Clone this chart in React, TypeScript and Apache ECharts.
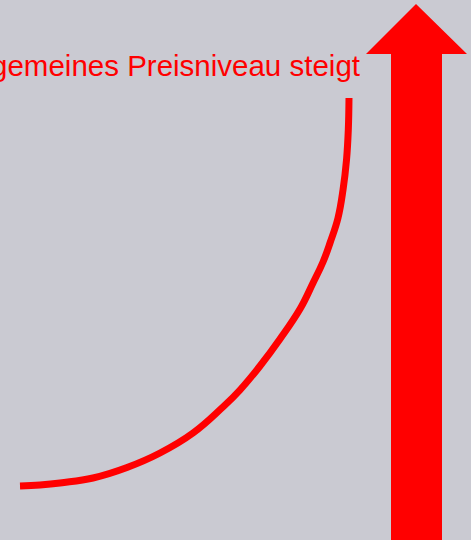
import React, { useEffect, useRef } from "react";
import * as echarts from "echarts";

const curveX = [20, 40, 60, 93, 127, 160, 193, 224, 240, 260, 280, 300, 313, 323, 330, 338, 343, 346.5, 348.3, 349];
const curveY = [486, 485, 483, 478, 467.5, 453, 433, 406, 390, 366, 339, 309, 283, 262, 243, 218, 190, 160, 130, 98];
const title = "Allgemeines Preisniveau steigt";

export default function App() {
  const ref = useRef<HTMLDivElement>(null);
  useEffect(() => {
    const chart = echarts.init(ref.current!, null, { renderer: "svg" });
    chart.setOption({
      animation: false,
      backgroundColor: "#cacad2",
      grid: { left: 0, right: 0, top: 0, bottom: 0 },
      xAxis: { type: "value", min: 0, max: 471, show: false },
      yAxis: { type: "value", min: 0, max: 540, inverse: true, show: false },
      series: [
        {
          type: "line",
          data: curveX.map((x, i) => [x, curveY[i]]),
          smooth: 0.4,
          symbol: "none",
          lineStyle: { color: "#ff0000", width: 7, cap: "butt", join: "round" },
        },
      ],
      graphic: [
        {
          type: "polygon",
          shape: {
            points: [
              [416, 4],
              [467, 54],
              [442, 54],
              [442, 540],
              [391, 540],
              [391, 54],
              [366, 54],
            ],
          },
          style: { fill: "#ff0000" },
        },
        {
          type: "text",
          x: 360,
          y: 50,
          style: {
            text: title,
            fill: "#ff0000",
            font: "29.5px 'Liberation Sans', Arial, sans-serif",
            align: "right",
            verticalAlign: "alphabetic",
          },
        },
      ],
    });
    return () => chart.dispose();
  }, []);
  return (
    <div
      ref={ref}
      style={{ position: "fixed", left: 0, top: 0, width: 471, height: 540 }}
    />
  );
}
